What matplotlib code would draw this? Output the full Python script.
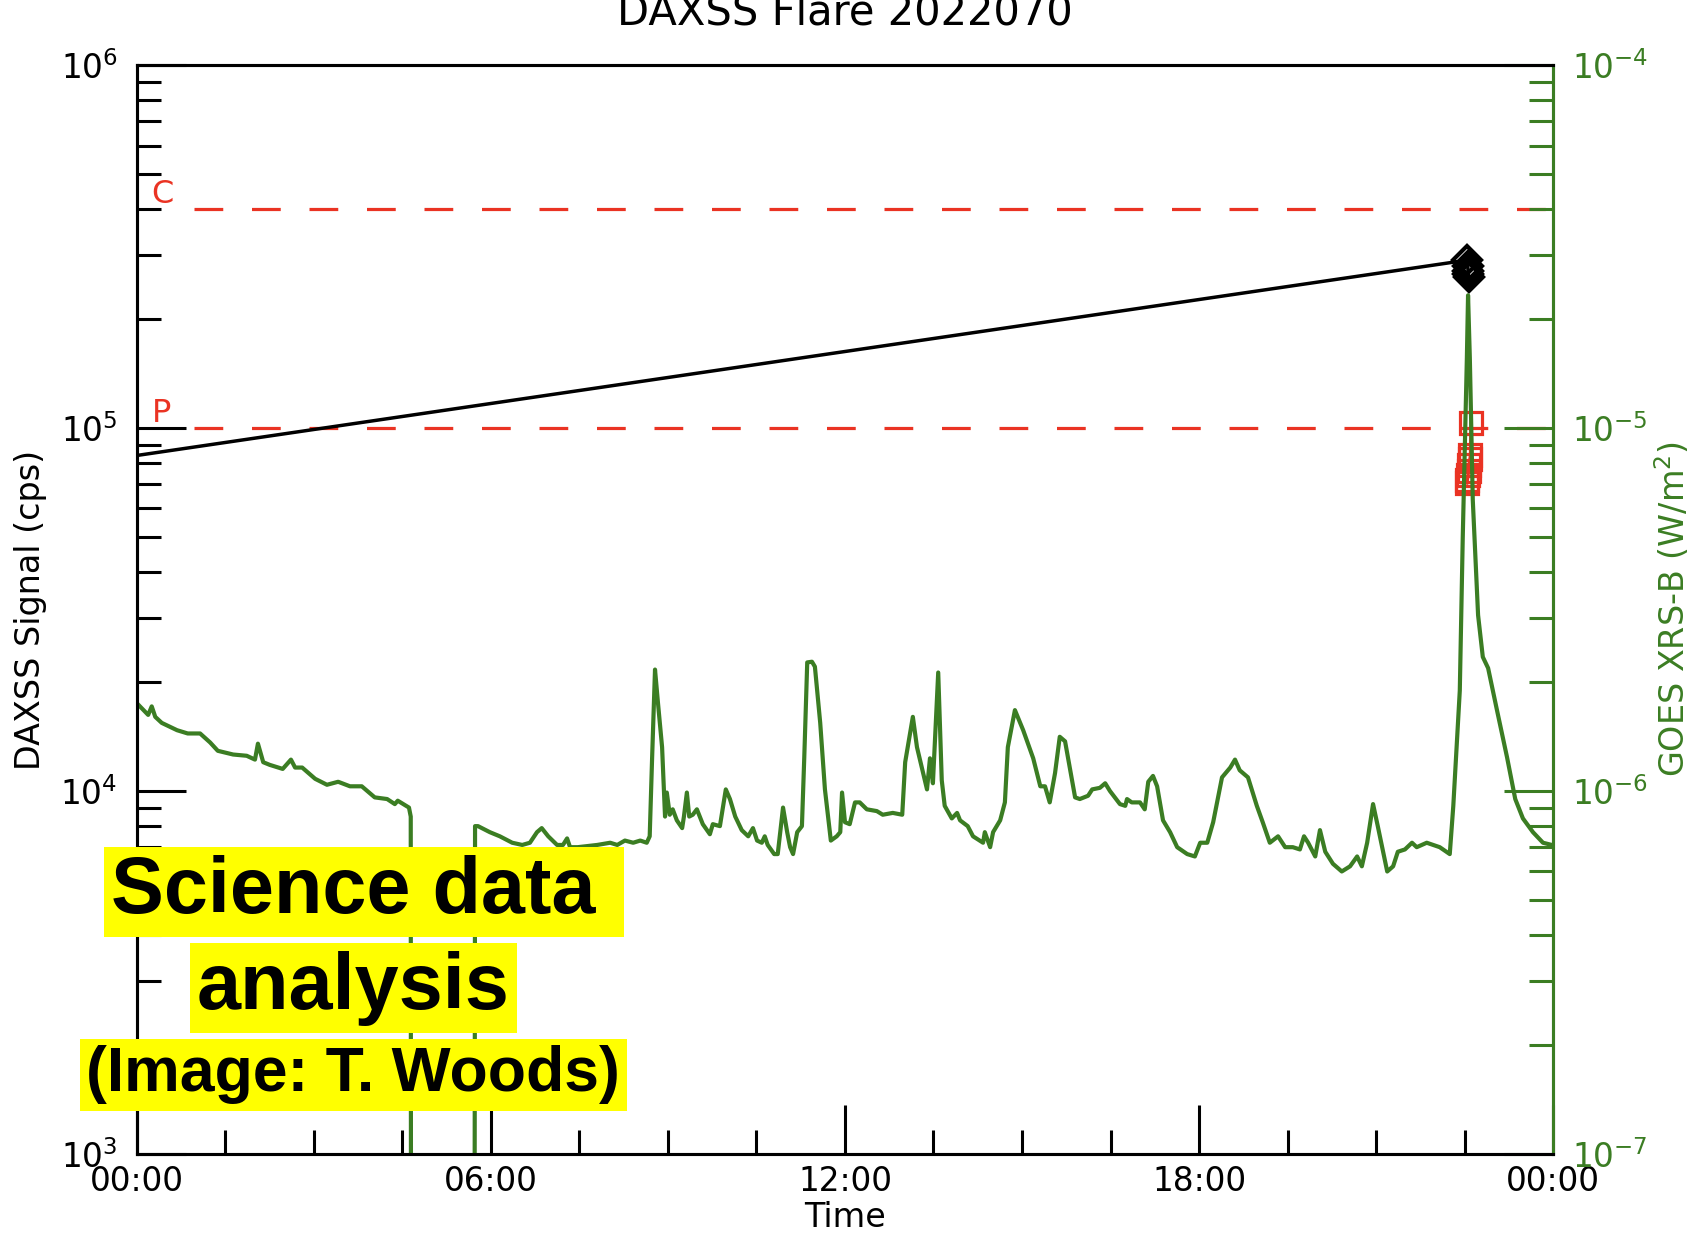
import matplotlib.pyplot as plt
import numpy as np
from matplotlib.ticker import MultipleLocator, LogLocator, NullFormatter

plt.rcParams['axes.unicode_minus'] = False

# GOES XRS-B flux (W/m^2), hours since 00:00 of 2022/070
goes_hours = [0.02, 0.19, 0.25, 0.31, 0.42, 0.68, 0.86, 1.07, 1.24, 1.37,
              1.63, 1.86, 2.00, 2.05, 2.14, 2.25, 2.47, 2.61, 2.68, 2.80,
              3.02, 3.22, 3.41, 3.61, 3.81, 4.03, 4.24, 4.37, 4.42, 4.61,
              4.64, 4.65, 5.71, 5.73, 5.78, 5.98, 6.15, 6.36, 6.53, 6.66,
              6.78, 6.86, 6.97, 7.12, 7.22, 7.29, 7.34, 7.47, 7.80, 8.02,
              8.14, 8.27, 8.41, 8.53, 8.64, 8.69, 8.73, 8.78, 8.83, 8.90,
              8.95, 8.98, 9.03, 9.08, 9.15, 9.24, 9.27, 9.32, 9.36, 9.42,
              9.49, 9.59, 9.71, 9.76, 9.88, 9.98, 10.05, 10.14, 10.25, 10.36,
              10.44, 10.51, 10.59, 10.64, 10.69, 10.80, 10.86, 10.95, 11.02, 11.07,
              11.12, 11.19, 11.27, 11.31, 11.36, 11.44, 11.49, 11.58, 11.66, 11.76,
              11.86, 11.92, 11.95, 12.00, 12.08, 12.17, 12.25, 12.37, 12.54, 12.64,
              12.81, 12.97, 13.02, 13.07, 13.15, 13.22, 13.39, 13.44, 13.49, 13.58,
              13.64, 13.69, 13.81, 13.90, 13.95, 14.08, 14.17, 14.34, 14.37, 14.46,
              14.51, 14.63, 14.71, 14.76, 14.88, 15.02, 15.19, 15.31, 15.39, 15.47,
              15.56, 15.64, 15.73, 15.90, 15.98, 16.12, 16.19, 16.32, 16.41, 16.49,
              16.66, 16.75, 16.78, 16.86, 17.00, 17.08, 17.14, 17.22, 17.29, 17.39,
              17.51, 17.63, 17.80, 17.93, 18.02, 18.14, 18.24, 18.39, 18.53, 18.61,
              18.69, 18.83, 18.98, 19.08, 19.20, 19.34, 19.46, 19.59, 19.71, 19.78,
              19.85, 19.97, 20.05, 20.14, 20.27, 20.42, 20.56, 20.68, 20.76, 20.85,
              20.95, 21.03, 21.19, 21.29, 21.37, 21.49, 21.61, 21.69, 21.86, 22.08,
              22.25, 22.31, 22.42, 22.47, 22.54, 22.56, 22.59, 22.64, 22.73, 22.81,
              22.90, 23.05, 23.22, 23.36, 23.49, 23.66, 23.83, 23.98]
# flux in units of 1e-6 W/m^2 (0.001 = data gap)
goes_flux_e6 = [1.73, 1.62, 1.71, 1.60, 1.54, 1.47, 1.44, 1.44, 1.36, 1.29,
                1.26, 1.25, 1.22, 1.35, 1.20, 1.18, 1.15, 1.22, 1.16, 1.16,
                1.08, 1.04, 1.06, 1.03, 1.03, 0.96, 0.95, 0.92, 0.94, 0.90,
                0.85, 0.001, 0.001, 0.80, 0.80, 0.77, 0.75, 0.72, 0.71, 0.72,
                0.77, 0.79, 0.75, 0.71, 0.71, 0.74, 0.70, 0.70, 0.71, 0.72,
                0.71, 0.73, 0.72, 0.73, 0.72, 0.75, 1.22, 2.16, 1.75, 1.32,
                0.85, 0.99, 0.86, 0.89, 0.83, 0.79, 0.85, 0.99, 0.85, 0.86,
                0.89, 0.81, 0.76, 0.81, 0.80, 1.01, 0.95, 0.85, 0.78, 0.75,
                0.79, 0.73, 0.72, 0.75, 0.71, 0.67, 0.67, 0.90, 0.77, 0.70,
                0.67, 0.77, 0.80, 1.24, 2.26, 2.27, 2.20, 1.54, 1.01, 0.73,
                0.75, 0.77, 0.99, 0.82, 0.81, 0.93, 0.93, 0.89, 0.88, 0.86,
                0.87, 0.86, 1.20, 1.34, 1.60, 1.32, 1.01, 1.23, 1.05, 2.12,
                1.07, 0.91, 0.84, 0.87, 0.83, 0.80, 0.75, 0.72, 0.77, 0.70,
                0.77, 0.83, 0.93, 1.32, 1.67, 1.47, 1.23, 1.03, 1.03, 0.93,
                1.12, 1.41, 1.37, 0.96, 0.95, 0.97, 1.01, 1.02, 1.05, 1.00,
                0.92, 0.91, 0.95, 0.93, 0.93, 0.89, 1.06, 1.10, 1.03, 0.83,
                0.77, 0.70, 0.67, 0.66, 0.72, 0.72, 0.82, 1.09, 1.16, 1.22,
                1.14, 1.09, 0.91, 0.82, 0.72, 0.75, 0.70, 0.70, 0.69, 0.75,
                0.72, 0.66, 0.78, 0.68, 0.63, 0.60, 0.62, 0.66, 0.62, 0.72,
                0.92, 0.80, 0.60, 0.62, 0.68, 0.69, 0.72, 0.70, 0.72, 0.70,
                0.67, 0.91, 1.89, 4.98, 15.6, 23.2, 15.6, 6.34, 3.05, 2.34,
                2.18, 1.67, 1.24, 0.95, 0.84, 0.77, 0.72, 0.71]
goes_flux = np.array(goes_flux_e6) * 1e-6

# DAXSS signal (cps); first sample sits on the left edge
daxss_hours = [0.0, 22.55, 22.555, 22.56, 22.565, 22.57]
daxss_cps = [8.4e4, 2.9e5, 2.8e5, 2.7e5, 2.65e5, 2.6e5]

square_hours = [22.61, 22.60, 22.59, 22.58, 22.57, 22.56, 22.55, 22.54]
square_cps = [1.03e5, 8.4e4, 8.2e4, 7.9e4, 7.6e4, 7.4e4, 7.2e4, 7.05e4]

# flare class levels on the DAXSS scale
levels = [4.0e5, 1.0e5]
level_names = ['C', 'P']
dash_start = 0.97

xtick_hours = [0, 6, 12, 18, 24]
xtick_labels = ['00:00', '06:00', '12:00', '18:00', '00:00']

green = '#3b7d23'
red = '#ea3323'

fig = plt.figure(figsize=(16.91, 12.40), dpi=100)
ax = fig.add_axes([0.081, 0.0694, 0.8374, 0.8782])
ax2 = ax.twinx()

ax.set_xlim(0, 24)
ax.set_yscale('log')
ax.set_ylim(1e3, 1e6)
ax2.set_yscale('log')
ax2.set_ylim(1e-7, 1e-4)

for lvl, name in zip(levels, level_names):
    ax.plot([dash_start, 24], [lvl, lvl], color=red, lw=2.3, dashes=(9, 9))
    ax.text(0.25, lvl * 1.04, name, color=red, fontsize=23)

ax.plot(daxss_hours, daxss_cps, color='black', lw=2.5, marker='D', ms=14,
        mfc='none', mec='black', mew=3, markevery=slice(1, None))
ax.plot(square_hours, square_cps, color=red, lw=2.3, marker='s', ms=16,
        mfc='none', mec=red, mew=2.3)
ax2.plot(goes_hours, goes_flux, color=green, lw=3)

ax.set_xticks(xtick_hours)
ax.set_xticklabels(xtick_labels)
ax.xaxis.set_minor_locator(MultipleLocator(1.5))
ax.yaxis.set_minor_locator(LogLocator(base=10, subs=range(2, 10)))
ax.yaxis.set_minor_formatter(NullFormatter())
ax2.yaxis.set_minor_locator(LogLocator(base=10, subs=range(2, 10)))
ax2.yaxis.set_minor_formatter(NullFormatter())

ax.tick_params(axis='both', which='major', direction='in', length=35, width=2.2,
               labelsize=23.5, top=False, right=False)
ax.tick_params(axis='both', which='minor', direction='in', length=17, width=2.2,
               top=False, right=False)
ax.tick_params(axis='x', which='major', pad=8)
ax.tick_params(axis='y', which='major', pad=14)
ax2.tick_params(axis='y', which='major', direction='in', length=35, width=2.2,
                labelsize=23.5, colors=green, pad=14)
ax2.tick_params(axis='y', which='minor', direction='in', length=17, width=2.2,
                colors=green)

for sp in ax.spines.values():
    sp.set_linewidth(2.2)
for sp in ax2.spines.values():
    sp.set_linewidth(2.2)
ax2.spines['right'].set_color(green)

ax.set_xlabel('Time', fontsize=24, labelpad=2)
ax.set_ylabel('DAXSS Signal (cps)', fontsize=24, labelpad=10)
ax2.set_ylabel('GOES XRS-B (W/m$^2$)', fontsize=24, color=green, labelpad=3)

fig.text(0.4997, 0.9806, 'DAXSS Flare 2022070', ha='center', va='baseline', fontsize=30)

box = dict(facecolor='yellow', edgecolor='none', pad=5)
fig.text(0.2153, 0.2806, 'Science data ', ha='center', va='center', fontsize=57,
         family='Liberation Sans', weight='bold', bbox=box)
fig.text(0.2088, 0.2032, 'analysis', ha='center', va='center', fontsize=57,
         family='Liberation Sans', weight='bold', bbox=box)
fig.text(0.2090, 0.1331, '(Image: T. Woods)', ha='center', va='center', fontsize=45,
         family='Liberation Sans', weight='bold', bbox=box)

fig.savefig('out.png', dpi=100)
